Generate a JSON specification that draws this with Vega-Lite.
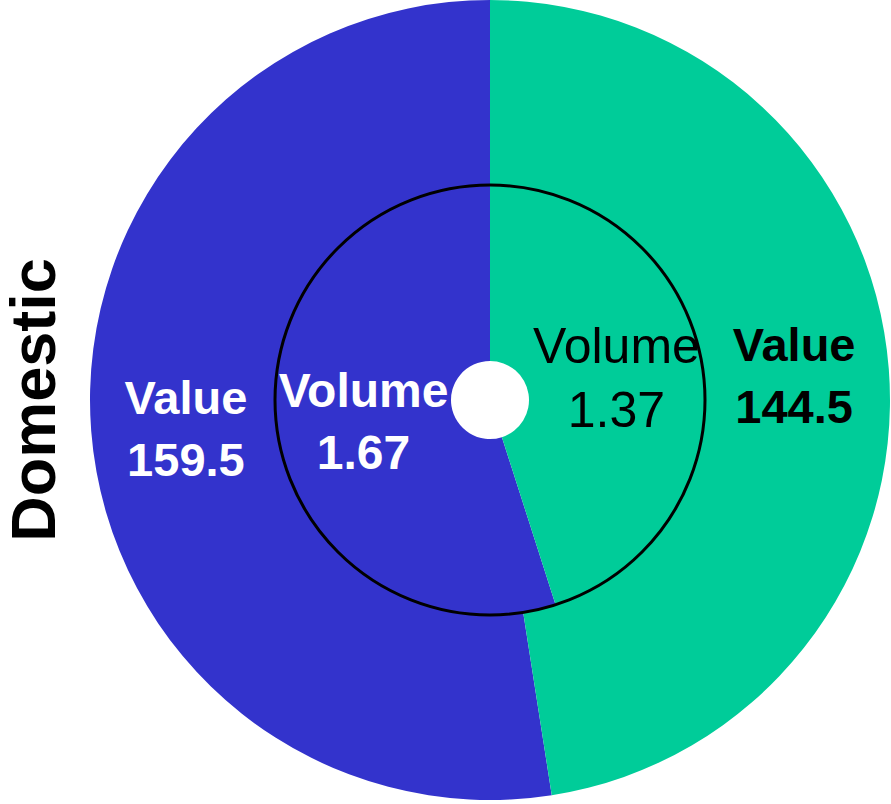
{
  "$schema": "https://vega.github.io/schema/vega-lite/v6.json",
  "width": 802,
  "height": 800,
  "autosize": {"type": "none"},
  "padding": {"left": 89, "top": 0, "right": 0, "bottom": 4},
  "background": "white",
  "config": {
    "view": {"stroke": null},
    "font": "Liberation Sans"
  },
  "title": {
    "text": "Domestic",
    "orient": "left",
    "anchor": "middle",
    "font": "Liberation Sans",
    "fontSize": 63,
    "fontWeight": "bold",
    "color": "black",
    "offset": 21
  },
  "data": {
    "values": [
      {"ring": "Value", "group": "Other", "rank": 2, "amount": 159.5},
      {"ring": "Value", "group": "Main", "rank": 1, "amount": 144.5},
      {"ring": "Volume", "group": "Other", "rank": 2, "amount": 1.67},
      {"ring": "Volume", "group": "Main", "rank": 1, "amount": 1.37}
    ]
  },
  "transform": [
    {"calculate": "datum.ring + '\\n' + datum.amount", "as": "label"}
  ],
  "encoding": {
    "theta": {"field": "amount", "type": "quantitative", "stack": "normalize"},
    "order": {"field": "rank", "type": "quantitative"}
  },
  "layer": [
    {
      "transform": [{"filter": "datum.ring == 'Value'"}],
      "mark": {"type": "arc", "radius": 400, "radius2": 215},
      "encoding": {
        "color": {
          "field": "group",
          "type": "nominal",
          "scale": {"domain": ["Other", "Main"], "range": ["#3333CC", "#00CC99"]},
          "legend": null
        }
      }
    },
    {
      "transform": [{"filter": "datum.ring == 'Volume'"}],
      "mark": {"type": "arc", "radius": 215, "radius2": 39},
      "encoding": {
        "color": {"field": "group", "type": "nominal", "legend": null}
      }
    },
    {
      "data": {"values": [{"ring": "outline"}]},
      "mark": {"type": "arc", "radius": 215, "radius2": 0, "fill": null, "stroke": "black", "strokeWidth": 3},
      "encoding": {
        "theta": {"value": 0},
        "theta2": {"value": 6.2832},
        "order": null
      }
    },
    {
      "transform": [{"filter": "datum.ring == 'Value'"}],
      "mark": {"type": "text", "radius": 305, "dy": -24, "fontSize": 47, "fontWeight": "bold", "lineBreak": "\n", "lineHeight": 62, "baseline": "middle", "align": "center", "color": "white"},
      "encoding": {
        "detail": {"field": "group", "type": "nominal"},
        "text": {"condition": {"test": "datum.group == 'Other'", "field": "label"}, "value": ""}
      }
    },
    {
      "transform": [{"filter": "datum.ring == 'Value'"}],
      "mark": {"type": "text", "radius": 305, "dy": -29, "fontSize": 47, "fontWeight": "bold", "lineBreak": "\n", "lineHeight": 62, "baseline": "middle", "align": "center", "color": "black"},
      "encoding": {
        "detail": {"field": "group", "type": "nominal"},
        "text": {"condition": {"test": "datum.group == 'Main'", "field": "label"}, "value": ""}
      }
    },
    {
      "transform": [{"filter": "datum.ring == 'Volume'"}],
      "mark": {"type": "text", "radius": 128, "dy": -27, "fontSize": 48, "fontWeight": "bold", "lineBreak": "\n", "lineHeight": 62, "baseline": "middle", "align": "center", "color": "white"},
      "encoding": {
        "detail": {"field": "group", "type": "nominal"},
        "text": {"condition": {"test": "datum.group == 'Other'", "field": "label"}, "value": ""}
      }
    },
    {
      "transform": [{"filter": "datum.ring == 'Volume'"}],
      "mark": {"type": "text", "radius": 128, "dy": -32, "fontSize": 50, "fontWeight": "normal", "lineBreak": "\n", "lineHeight": 64, "baseline": "middle", "align": "center", "color": "black"},
      "encoding": {
        "detail": {"field": "group", "type": "nominal"},
        "text": {"condition": {"test": "datum.group == 'Main'", "field": "label"}, "value": ""}
      }
    }
  ]
}
